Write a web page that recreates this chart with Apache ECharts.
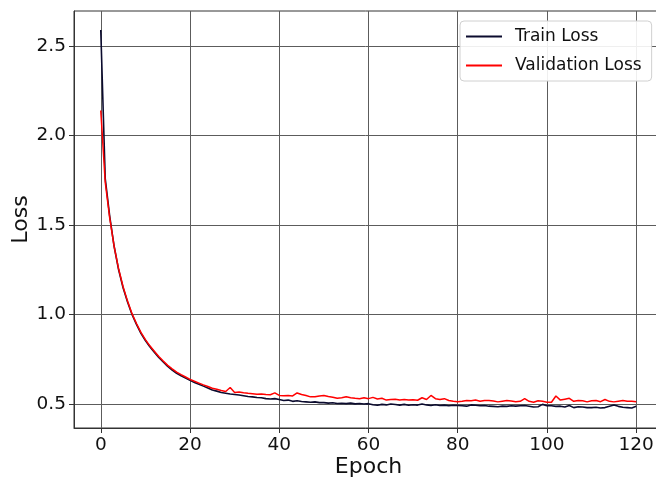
<!DOCTYPE html>
<html>
<head>
<meta charset="utf-8">
<script src="https://cdn.jsdelivr.net/npm/echarts@6/dist/echarts.min.js"></script>
<style>
  html, body { margin: 0; padding: 0; background: #fff; }
  #main { width: 656px; height: 481px; }
</style>
</head>
<body>
<div id="main"></div>
<script>
// epochs 0..120
const epochs = [];
for (let i = 0; i <= 120; i++) epochs.push(i);

const trainLoss = [
  2.59, 1.76, 1.55, 1.38, 1.25, 1.15, 1.07, 1.00, 0.945, 0.895,
  0.855, 0.82, 0.79, 0.76, 0.735, 0.71, 0.69, 0.672, 0.658, 0.645,
  0.632, 0.62, 0.61, 0.60, 0.59, 0.578, 0.572, 0.564, 0.56, 0.556,
  0.553, 0.55, 0.546, 0.542, 0.54, 0.536, 0.535, 0.53, 0.528, 0.53,
  0.525, 0.52, 0.522, 0.515, 0.518, 0.514, 0.512, 0.51, 0.512, 0.508,
  0.508, 0.505, 0.507, 0.503, 0.504, 0.502, 0.505, 0.501, 0.503, 0.50,
  0.502, 0.496, 0.493, 0.498, 0.495, 0.50, 0.497, 0.494, 0.498, 0.493,
  0.496, 0.494, 0.50, 0.495, 0.492, 0.496, 0.492, 0.494, 0.49, 0.493,
  0.492, 0.49, 0.488, 0.495, 0.493, 0.49, 0.492, 0.488, 0.487, 0.485,
  0.488, 0.487, 0.49, 0.488, 0.49, 0.492, 0.488, 0.483, 0.485, 0.498,
  0.49, 0.49, 0.487, 0.488, 0.483, 0.492, 0.48, 0.485, 0.483, 0.48,
  0.48, 0.482, 0.478, 0.48, 0.488, 0.495, 0.487, 0.482, 0.48, 0.478,
  0.487
];

const valLoss = [
  2.14, 1.74, 1.54, 1.38, 1.255, 1.155, 1.075, 1.005, 0.95, 0.90,
  0.86, 0.825, 0.795, 0.765, 0.74, 0.716, 0.696, 0.678, 0.664, 0.651,
  0.638, 0.627, 0.617, 0.607, 0.598, 0.588, 0.582, 0.575, 0.57, 0.592,
  0.565, 0.567, 0.563, 0.56, 0.558, 0.555, 0.556, 0.553, 0.552, 0.562,
  0.548, 0.546, 0.547, 0.545, 0.562, 0.553, 0.548, 0.54, 0.54, 0.545,
  0.548, 0.542, 0.538, 0.532, 0.535, 0.54, 0.535, 0.532, 0.53, 0.535,
  0.53, 0.537, 0.528, 0.532, 0.522, 0.525, 0.527, 0.523, 0.525, 0.522,
  0.524, 0.521, 0.535, 0.525, 0.548, 0.53, 0.525, 0.53, 0.52, 0.515,
  0.513, 0.515, 0.52, 0.518, 0.522, 0.515, 0.52, 0.52, 0.517, 0.512,
  0.516, 0.52, 0.517, 0.513, 0.515, 0.53, 0.515, 0.51, 0.518, 0.515,
  0.51, 0.51, 0.545, 0.522, 0.527, 0.532, 0.515, 0.52, 0.518, 0.512,
  0.518, 0.52, 0.513, 0.525, 0.515, 0.512, 0.516, 0.52, 0.515, 0.515,
  0.513
];

const xTicks = [0, 20, 40, 60, 80, 100, 120];
const yTicks = [0.5, 1.0, 1.5, 2.0, 2.5];

const font = 'DejaVu Sans';
const gridColor = '#5c5c5c';

let chart = echarts.init(document.getElementById('main'));

const option = {
  animation: false,
  backgroundColor: '#fff',
  grid: {
    left: 74, top: 11, right: -7, bottom: 53,
    outerBoundsMode: 'none',
    containLabel: false,
    show: true, borderColor: '#333', borderWidth: 1
  },
  legend: {
    orient: 'vertical',
    left: 460, top: 21,
    padding: [7, 10, 7, 6],
    itemGap: 12,
    itemWidth: 36, itemHeight: 2,
    icon: 'rect',
    backgroundColor: 'rgba(255,255,255,0.9)',
    borderColor: '#d0d0d0', borderWidth: 1, borderRadius: 4,
    textStyle: { fontFamily: font, fontSize: 17, color: '#111', padding: [0, 0, 0, 8] },
    data: ['Train Loss', 'Validation Loss']
  },
  xAxis: {
    type: 'value', min: -6, max: 126,
    name: 'Epoch', nameLocation: 'middle', nameGap: 28, nameMoveOverlap: false,
    nameTextStyle: { fontFamily: font, fontSize: 22, color: '#111' },
    axisLine: { show: true, onZero: false, lineStyle: { color: '#333' } },
    axisTick: { show: true, length: 5, customValues: xTicks, lineStyle: { color: '#333' } },
    axisLabel: { customValues: xTicks, fontFamily: font, fontSize: 18.5, color: '#111', margin: 8 },
    splitLine: { show: true, lineStyle: { color: gridColor, width: 1 } }
  },
  yAxis: {
    type: 'value', min: 0.366, max: 2.696,
    name: 'Loss', nameLocation: 'middle', nameGap: 42, nameMoveOverlap: false,
    nameTextStyle: { fontFamily: font, fontSize: 22, color: '#111' },
    axisLine: { show: true, onZero: false, lineStyle: { color: '#333' } },
    axisTick: { show: true, length: 5, customValues: yTicks, lineStyle: { color: '#333' } },
    axisLabel: {
      customValues: yTicks, fontFamily: font, fontSize: 18.5, color: '#111', margin: 8,
      formatter: v => v.toFixed(1)
    },
    splitLine: { show: true, lineStyle: { color: gridColor, width: 1 } }
  },
  series: [
    {
      name: 'Train Loss', type: 'line', showSymbol: false,
      data: epochs.map((e, i) => [e, trainLoss[i]]),
      lineStyle: { color: '#0b0b2e', width: 1.6 },
      itemStyle: { color: '#0b0b2e' }
    },
    {
      name: 'Validation Loss', type: 'line', showSymbol: false,
      data: epochs.map((e, i) => [e, valLoss[i]]),
      lineStyle: { color: '#ff0000', width: 1.5 },
      itemStyle: { color: '#ff0000' }
    }
  ]
};

chart.setOption(option);
</script>
</body>
</html>
